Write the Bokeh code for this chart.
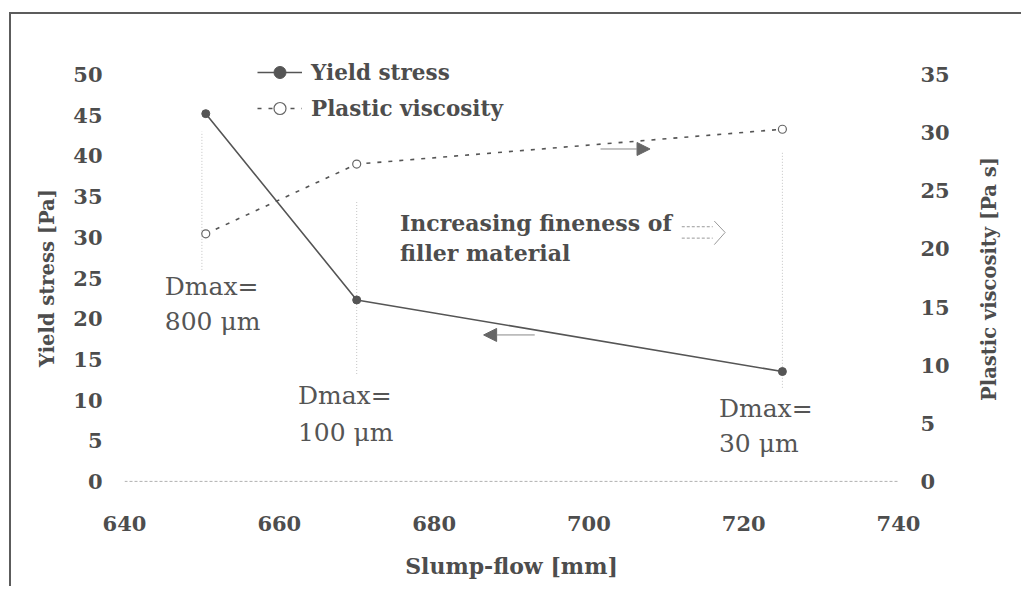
import math
from bokeh.plotting import figure
from bokeh.models import (Range1d, LinearAxis, Legend, LegendItem, Arrow, NormalHead,
                          FixedTicker, ColumnDataSource, Span)
from bokeh.core.properties import value
from bokeh.embed import file_html
from bokeh.resources import INLINE

# ---- data ----
slump_flow = [650.5, 670, 725]
yield_stress = [45.2, 22.3, 13.5]
plastic_viscosity = [21.3, 27.3, 30.3]
drop_x = [650, 670, 725]
drop_top = [43.0, 34.5, 40.6]
drop_bottom = [26.0, 13.2, 11.5]
x_ticks = [640, 660, 680, 700, 720, 740]
left_ticks = [0, 5, 10, 15, 20, 25, 30, 35, 40, 45, 50]
right_ticks = [0, 5, 10, 15, 20, 25, 30, 35]

dmax_line1 = ["Dmax=", "Dmax=", "Dmax="]
dmax_line2 = ["800 \u03bcm", "100 \u03bcm", "30 \u03bcm"]
dmax_x = [645.2, 662.4, 716.8]
dmax_y1 = [24.0, 10.5, 9.0]
dmax_y2 = [19.6, 6.0, 4.7]

note_lines = ["Increasing fineness of", "filler material"]
note_x = [675.6, 675.6]
note_y = [31.8, 28.1]

SERIF = "DejaVu Serif"
GRAY = "#4d4d4d"

W, H = 1012, 574
BX, BY = 2, 2                  # border widths
MX, MY = 9, 12                 # margins of the box on the page
OX, OY = MX + BX, MY + BY      # canvas origin on page
CW, CH = W - BX, H - BY        # canvas size
FL, FR = 124, 896              # frame left/right on page
Y0, Y50 = 479, 74              # page y of 0 and 50 on the left axis
FT, FBF = 46, 507              # frame top / bottom on page
ppu = (Y0 - Y50) / 50.0
ytop = 50 + (Y50 - FT) / ppu
ybot = -(FBF - Y0) / ppu
rscale = 35 / 50.0

p = figure(width=W, height=H, output_backend="svg", toolbar_location=None,
           x_range=Range1d(640, 740), y_range=Range1d(ybot, ytop),
           min_border_left=FL - OX, min_border_right=CW - (FR - OX),
           min_border_top=FT - OY, min_border_bottom=CH - (FBF - OY),
           background_fill_color="white", border_fill_color="white")
p.styles = {"border-top": "%dpx solid #5c5c5c" % BY,
            "border-left": "%dpx solid #5c5c5c" % BX,
            "margin-top": "%dpx" % MY, "margin-left": "%dpx" % MX}
p.outline_line_color = None
p.xgrid.visible = False
p.ygrid.visible = False
p.extra_y_ranges = {"visc": Range1d(ybot * rscale, ytop * rscale)}

# x axis
xa = p.xaxis[0]
xa.ticker = FixedTicker(ticks=x_ticks)
xa.axis_label = "Slump-flow [mm]"
xa.axis_line_color = None
xa.major_tick_line_color = None
xa.minor_tick_line_color = None
xa.major_label_standoff = 0
xa.axis_label_standoff = 19

# zero line
p.add_layout(Span(location=0, dimension="width", line_color="#b0b0b0",
                  line_dash="3 2", line_width=1))

# left axis
ya = p.yaxis[0]
ya.ticker = FixedTicker(ticks=left_ticks)
ya.axis_label = "Yield stress [Pa]"
ya.axis_line_color = None
ya.major_tick_line_color = None
ya.minor_tick_line_color = None
ya.major_label_standoff = 16
ya.axis_label_standoff = 11

# right axis
right_title = "Plastic viscosity [Pa s]"
ra = LinearAxis(y_range_name="visc", ticker=FixedTicker(ticks=right_ticks))
ra.axis_line_color = None
ra.major_tick_line_color = None
ra.minor_tick_line_color = None
ra.major_label_standoff = 16
ra.axis_label_standoff = 37
if hasattr(ra, "axis_label_orientation") and hasattr(ra, "axis_label_align"):
    # read bottom-to-top like the reference; anchor at the bottom of the frame
    ra.axis_label = "\u00a0" * 16 + right_title
    ra.axis_label_orientation = math.pi / 2
    ra.axis_label_align = "start"
else:
    ra.axis_label = right_title
p.add_layout(ra, "right")

for ax in (xa, ya, ra):
    ax.major_label_text_font = SERIF
    ax.major_label_text_font_style = "bold"
    ax.major_label_text_font_size = "21px"
    ax.major_label_text_color = GRAY
    ax.axis_label_text_font = SERIF
    ax.axis_label_text_font_style = "bold"
    ax.axis_label_text_color = GRAY
xa.axis_label_text_font_size = "22px"
ya.axis_label_text_font_size = "19.5px"
ra.axis_label_text_font_size = "19.5px"

# faint dotted drop lines
p.segment(x0=drop_x, y0=drop_bottom, x1=drop_x, y1=drop_top,
          line_color="#c4c4c4", line_width=1, line_dash="1 2")

# series
r_ys_line = p.line(slump_flow, yield_stress, line_color="#555555", line_width=1.6)
r_ys_pts = p.scatter(slump_flow, yield_stress, size=8, marker="circle",
                     fill_color="#555555", line_color="#555555")
r_pv_line = p.line(slump_flow, plastic_viscosity, y_range_name="visc",
                   line_color="#555555", line_width=1.6, line_dash="4 7")
r_pv_pts = p.scatter(slump_flow, plastic_viscosity, y_range_name="visc", size=8,
                     marker="circle", fill_color="white", line_color="#666666",
                     line_width=1.2)

# arrows
p.add_layout(Arrow(end=NormalHead(size=13, fill_color="#666666", line_color="#666666"),
                   x_start=701.5, y_start=28.6, x_end=707.9, y_end=28.6,
                   y_range_name="visc", line_color="#888888", line_width=1))
p.add_layout(Arrow(end=NormalHead(size=13, fill_color="#666666", line_color="#666666"),
                   x_start=693.0, y_start=18.0, x_end=686.4, y_end=18.0,
                   line_color="#888888", line_width=1))

# hollow double arrow
p.multi_line(xs=[[712.0, 716.0], [712.0, 716.0]], ys=[[31.3, 31.3], [29.9, 29.9]],
             line_color="#9a9a9a", line_width=1, line_dash="3 2")
p.line([716.2, 717.6, 716.2], [32.0, 30.6, 29.1], line_color="#9a9a9a", line_width=1)

# texts
src_d = ColumnDataSource(dict(x=dmax_x + dmax_x, y=dmax_y1 + dmax_y2,
                              t=dmax_line1 + dmax_line2))
p.text(x="x", y="y", text="t", source=src_d, text_font=value(SERIF),
       text_font_size="25px", text_color="#555555", text_baseline="middle",
       text_align="left")
p.text(x=note_x, y=note_y, text=note_lines, text_font=value(SERIF),
       text_font_style="bold", text_font_size="22px", text_color=GRAY,
       text_baseline="middle", text_align="left")

# legend
legend = Legend(items=[LegendItem(label="Yield stress", renderers=[r_ys_line, r_ys_pts]),
                       LegendItem(label="Plastic viscosity", renderers=[r_pv_line, r_pv_pts])],
                location=(257 - FL, FBF - 121), orientation="vertical",
                background_fill_alpha=0, border_line_color=None,
                padding=0, margin=0, spacing=6, glyph_width=45, glyph_height=30,
                label_height=30, label_standoff=9,
                label_text_font=SERIF, label_text_font_style="bold",
                label_text_font_size="21.5px", label_text_color=GRAY)
p.add_layout(legend, "center")

open("out.html", "w").write(file_html(p, INLINE))
